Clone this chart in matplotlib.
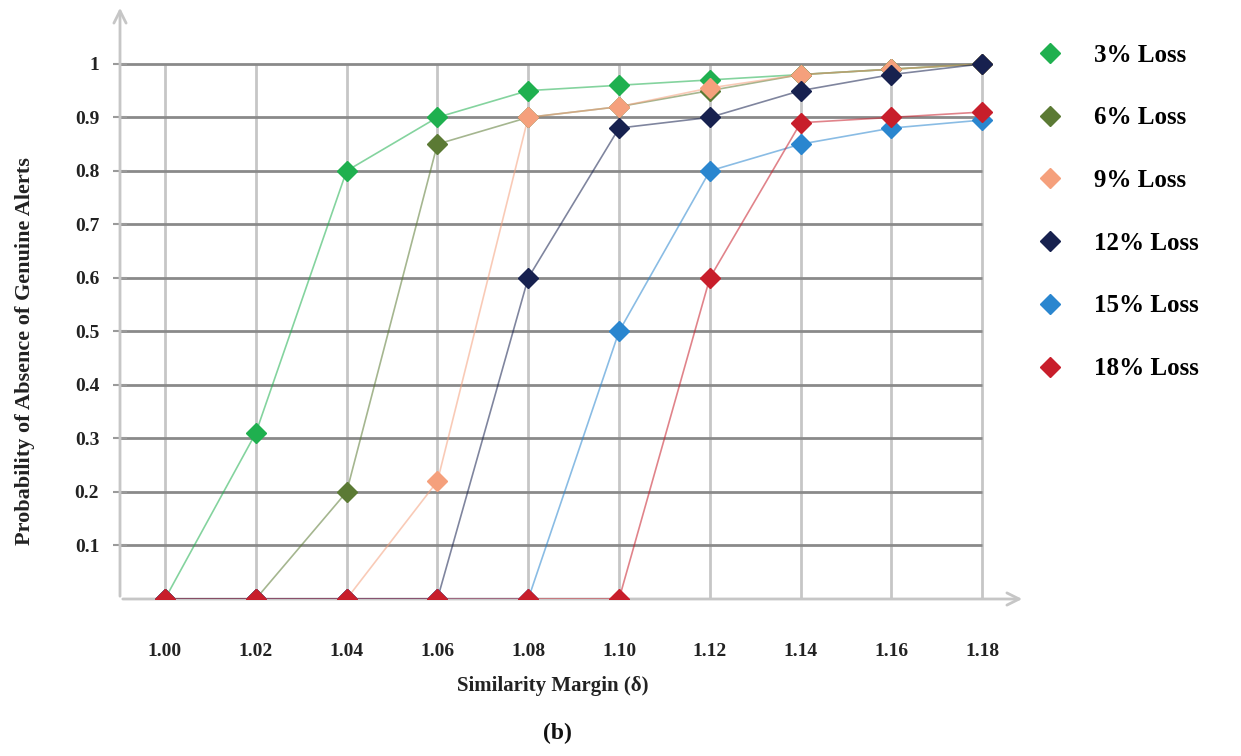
import matplotlib
matplotlib.use("Agg")
import matplotlib.pyplot as plt

# Similarity margin values (x axis)
margins = [1.00, 1.02, 1.04, 1.06, 1.08, 1.10, 1.12, 1.14, 1.16, 1.18]
x_labels = ['1.00', '1.02', '1.04', '1.06', '1.08', '1.10', '1.12', '1.14', '1.16', '1.18']
y_ticks = [0.1, 0.2, 0.3, 0.4, 0.5, 0.6, 0.7, 0.8, 0.9, 1.0]
y_labels = ['0.1', '0.2', '0.3', '0.4', '0.5', '0.6', '0.7', '0.8', '0.9', '1']

# Probability of absence of genuine alerts, one list per loss rate
loss_3 = [0.00, 0.31, 0.80, 0.90, 0.95, 0.96, 0.97, 0.98, 0.99, 1.00]
loss_6 = [0.00, 0.00, 0.20, 0.85, 0.90, 0.92, 0.95, 0.98, 0.99, 1.00]
loss_9 = [0.00, 0.00, 0.00, 0.22, 0.90, 0.92, 0.955, 0.98, 0.99, 1.00]
loss_12 = [0.00, 0.00, 0.00, 0.00, 0.60, 0.88, 0.90, 0.95, 0.98, 1.00]
loss_15 = [0.00, 0.00, 0.00, 0.00, 0.00, 0.50, 0.80, 0.85, 0.88, 0.895]
loss_18 = [0.00, 0.00, 0.00, 0.00, 0.00, 0.00, 0.60, 0.89, 0.90, 0.91]

series = [
    ('3% Loss', loss_3, '#1fb04f'),
    ('6% Loss', loss_6, '#5b7a34'),
    ('9% Loss', loss_9, '#f5a07c'),
    ('12% Loss', loss_12, '#17214f'),
    ('15% Loss', loss_15, '#2a86cf'),
    ('18% Loss', loss_18, '#c81e2b'),
]

plt.rcParams['font.family'] = ['Liberation Serif', 'DejaVu Serif']
plt.rcParams['font.weight'] = 'bold'

W, H = 1241, 756
fig = plt.figure(figsize=(W / 100, H / 100), dpi=100)
# axes box in pixels: left 120, right 1025, bottom 599, top 5
ax = fig.add_axes([120 / W, (H - 599) / H, (1025 - 120) / W, (599 - 5) / H])
x_left, x_right = 0.9901, 1.1894
ax.set_xlim(x_left, x_right)
ax.set_ylim(0, 1.110)

for s in ax.spines.values():
    s.set_visible(False)

# grid: light vertical lines, darker horizontal lines
ax.vlines(margins, 0, 1.0, color='#c6c6c6', lw=2, zorder=1)
ax.hlines(y_ticks, x_left, margins[-1], color='#8a8a8a', lw=2, zorder=1)

# axes with arrow heads
arrow = dict(arrowstyle='->', color='#c6c6c6', lw=2, mutation_scale=22)
ax.annotate('', xy=(0, 1), xytext=(0, 0), xycoords='axes fraction', arrowprops=arrow, zorder=2)
ax.annotate('', xy=(1, 0), xytext=(0, 0), xycoords='axes fraction', arrowprops=arrow, zorder=2)

for label, vals, color in series:
    ax.plot(margins, vals, color=color, lw=1.2, alpha=0.55, zorder=3)
    ax.plot(margins, vals, ls='none', marker='D', ms=10.5, color=color,
            mec=color, mew=1, zorder=4, label=label)

ax.set_xticks(margins)
ax.set_xticklabels(x_labels, fontsize=14, fontweight='bold', color='#222222')
ax.set_yticks(y_ticks)
ax.set_yticklabels(y_labels, fontsize=14, fontweight='bold', color='#222222')
ax.tick_params(axis='x', length=0, pad=32)
ax.tick_params(axis='y', length=10, direction='inout', color='#9a9a9a', width=1.5, pad=10)

fig.text(25 / W, 1 - 351 / H, 'Probability of Absence of Genuine Alerts', rotation=90,
         ha='center', va='center', fontsize=16, fontweight='bold', color='#222222')
fig.text(553 / W, 1 - 686 / H, 'Similarity Margin (\u03b4)', ha='center', va='center',
         fontsize=15, fontweight='bold', color='#222222')
fig.text(557 / W, 1 - 733 / H, '(b)', ha='center', va='center',
         fontsize=17, fontweight='bold', color='#111111')

handles, labels = ax.get_legend_handles_labels()
fig.legend(handles, labels, loc='upper left', bbox_to_anchor=(1012 / W, 1 - 21 / H),
           frameon=False, prop={'family': 'Liberation Serif', 'weight': 'bold', 'size': 18},
           labelspacing=1.59, handletextpad=1.2, handlelength=1.2, markerscale=1.0)

fig.savefig('out.png', dpi=100, facecolor='white')
